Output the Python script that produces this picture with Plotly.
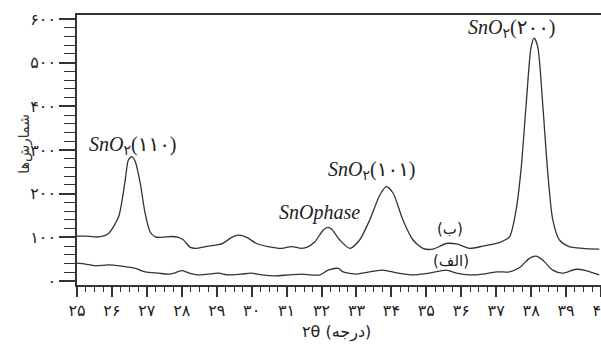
import plotly.graph_objects as go

# ---- data ----
two_theta_b = [25.0, 25.24, 25.62, 25.90, 26.19, 26.38, 26.47, 26.57, 26.67, 26.81, 26.95, 27.09,
               27.24, 27.43, 27.71, 27.90, 28.05, 28.24, 28.43, 28.76, 29.14, 29.43, 29.62, 29.86,
               30.14, 30.47, 30.86, 31.14, 31.43, 31.62, 31.81, 32.05, 32.19, 32.30, 32.52, 32.81,
               33.09, 33.38, 33.67, 33.86, 34.05, 34.33, 34.62, 34.90, 35.19, 35.57, 35.86, 36.24,
               36.62, 37.09, 37.38, 37.57, 37.71, 37.86, 38.00, 38.09, 38.19, 38.33, 38.47, 38.62,
               38.81, 39.09, 39.47, 39.95]
counts_b = [103, 103, 101, 109, 147, 231, 277, 285, 273, 224, 155, 113,
            101, 100, 102, 100, 94, 77, 75, 80, 85, 100, 105, 100,
            86, 79, 75, 79, 75, 79, 90, 117, 123, 118, 94, 75,
            94, 140, 197, 216, 201, 140, 94, 75, 73, 86, 85, 75,
            80, 88, 101, 163, 254, 407, 536, 556, 536, 407, 254, 140,
            94, 79, 75, 73]

two_theta_a = [25.0, 25.24, 25.52, 25.90, 26.28, 26.67, 26.95, 27.33, 27.62, 27.81, 28.0, 28.19,
               28.48, 28.76, 29.05, 29.33, 29.71, 30.0, 30.29, 30.67, 31.05, 31.43, 31.71, 31.95,
               32.19, 32.48, 32.62, 33.0, 33.38, 33.76, 34.14, 34.62, 35.09, 35.57, 35.86, 36.24,
               36.62, 37.0, 37.38, 37.67, 37.95, 38.14, 38.33, 38.62, 38.90, 39.29, 39.57, 39.95]
counts_a = [41, 39, 35, 37, 34, 29, 21, 18, 16, 19, 24, 19,
            14, 16, 18, 14, 16, 18, 14, 12, 14, 16, 14, 14,
            25, 29, 21, 16, 21, 25, 19, 14, 18, 25, 18, 14,
            16, 21, 21, 31, 52, 57, 48, 25, 18, 27, 24, 14]

x_tick_vals = [25, 26, 27, 28, 29, 30, 31, 32, 33, 34, 35, 36, 37, 38, 39, 40]
x_tick_text = ["۲۵", "۲۶", "۲۷", "۲۸", "۲۹", "۳۰", "۳۱", "۳۲", "۳۳", "۳۴", "۳۵", "۳۶", "۳۷", "۳۸", "۳۹", "۴۰"]
y_tick_vals = [0, 100, 200, 300, 400, 500, 600]
y_tick_text = ["۰", "۱۰۰", "۲۰۰", "۳۰۰", "۴۰۰", "۵۰۰", "۶۰۰"]

peak_labels = ["<i>SnO</i><sub>۲</sub>(۱۱۰)", "<i>SnO</i><sub>۲</sub>(۱۰۱)",
               "<i>SnOphase</i>", "<i>SnO</i><sub>۲</sub>(۲۰۰)"]
peak_label_x = [26.61, 33.44, 31.95, 37.44]
peak_label_y = [311, 254, 156, 579]

series_names = ["(ب)", "(الف)"]
series_label_x = [35.67, 35.72]
series_label_y = [119, 46]

LINE = "#333333"
FA_FONT = "DejaVu Sans"
SERIF = "Liberation Serif, DejaVu Serif, DejaVu Sans"

fig = go.Figure()
fig.add_trace(go.Scatter(x=two_theta_b, y=counts_b, mode="lines", name=series_names[0],
                         line=dict(color=LINE, width=1.3, shape="spline", smoothing=0.7)))
fig.add_trace(go.Scatter(x=two_theta_a, y=counts_a, mode="lines", name=series_names[1],
                         line=dict(color=LINE, width=1.3, shape="spline", smoothing=0.7)))

for t, x, y in zip(peak_labels, peak_label_x, peak_label_y):
    fig.add_annotation(x=x, y=y, xref="x", yref="y", text=t, showarrow=False,
                       font=dict(family=SERIF, size=20, color="#222222"))
for t, x, y in zip(series_names, series_label_x, series_label_y):
    fig.add_annotation(x=x, y=y, xref="x", yref="y", text=t, showarrow=False,
                       font=dict(family=FA_FONT, size=15, color="#222222"))

# axis titles
fig.add_annotation(x=-0.122, y=0.522, xref="paper", yref="paper", text="شمارش‌ها",
                   textangle=-90, showarrow=False, font=dict(family=FA_FONT, size=14, color="#333333"))
fig.add_annotation(x=0.495, y=-0.175, xref="paper", yref="paper", text="۲θ (درجه)",
                   showarrow=False, yanchor="middle", font=dict(family=FA_FONT, size=16, color="#222222"))

fig.update_xaxes(range=[25, 40], showgrid=False, zeroline=False,
                 showline=True, linecolor=LINE, linewidth=1.6, mirror=True,
                 ticks="outside", ticklen=10, tickwidth=1.6, tickcolor=LINE,
                 tickvals=x_tick_vals, ticktext=x_tick_text, ticklabeloverflow="allow",
                 tickfont=dict(family=FA_FONT, size=16, color="#222222"),
                 minor=dict(dtick=0.25, ticklen=5, tickwidth=1.3, tickcolor=LINE, ticks="outside"),
                 automargin=False)
fig.update_yaxes(range=[-9, 609], showgrid=False, zeroline=False,
                 showline=True, linecolor=LINE, linewidth=1.6, mirror=True,
                 ticks="outside", ticklen=16, tickwidth=1.6, tickcolor=LINE,
                 tickvals=y_tick_vals, ticktext=y_tick_text, ticklabeloverflow="allow",
                 tickfont=dict(family=FA_FONT, size=16, color="#222222"),
                 minor=dict(dtick=20, ticklen=11, tickwidth=1.3, tickcolor=LINE, ticks="outside"),
                 automargin=False)

fig.update_layout(width=601, height=347, margin=dict(l=77, r=0, t=15, b=62),
                  paper_bgcolor="white", plot_bgcolor="white", showlegend=False)

fig.write_html("out.html")
